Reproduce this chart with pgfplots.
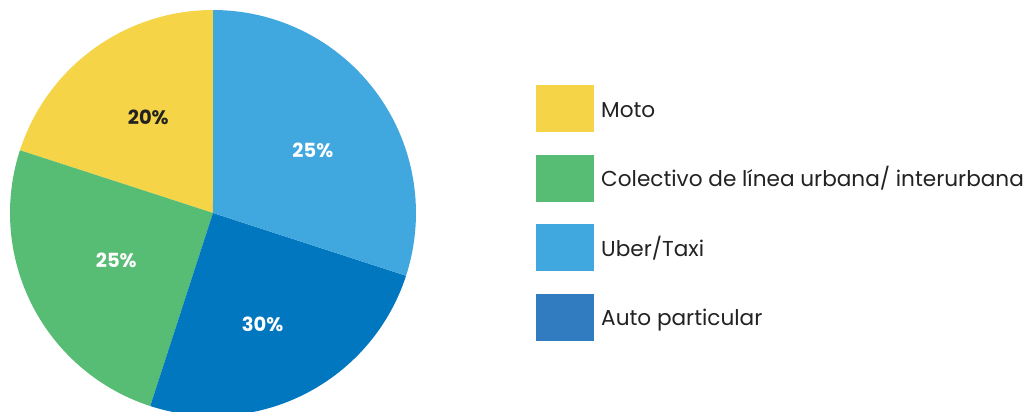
\documentclass[border=0pt]{standalone}
\usepackage{fontspec}
\setmainfont{Poppins}
\usepackage{pgfplots}
\pgfplotsset{compat=1.18}
\usepgfplotslibrary{polar}
\definecolor{cMoto}{HTML}{F5D447}
\definecolor{cCol}{HTML}{57BC74}
\definecolor{cUber}{HTML}{40A7DF}
\definecolor{cAuto}{HTML}{0077BF}
\definecolor{cAutoLeg}{HTML}{317CC0}
\definecolor{txt}{HTML}{222222}
\begin{document}
\begin{tikzpicture}[x=1pt,y=1pt]
\path[use as bounding box] (0,0) rectangle (1029,412);
\begin{polaraxis}[
  hide axis, scale only axis,
  width=406pt, height=406pt,
  ymin=0, ymax=1,
  at={(213pt,199pt)}, anchor=center,
  clip=false,
]
% slices: Moto 20%, Colectivo 25%, Auto particular 25%, Uber/Taxi 30% (angles as drawn)
\addplot[draw=none, fill=cMoto, domain=90:162, samples=60] {1} -- (axis cs:0,0) -- cycle;
\addplot[draw=none, fill=cCol, domain=162:252, samples=60] {1} -- (axis cs:0,0) -- cycle;
\addplot[draw=none, fill=cAuto, domain=252:342, samples=60] {1} -- (axis cs:0,0) -- cycle;
\addplot[draw=none, fill=cUber, domain=342:450, samples=60] {1} -- (axis cs:0,0) -- cycle;
\node[font=\fontsize{19.5}{22}\selectfont\bfseries, text=txt] at (axis cs:124,0.57) {20\%};
\node[font=\fontsize{19.5}{22}\selectfont\bfseries, text=white] at (axis cs:206,0.53) {25\%};
\node[font=\fontsize{19.5}{22}\selectfont\bfseries, text=white] at (axis cs:294,0.60) {30\%};
\node[font=\fontsize{19.5}{22}\selectfont\bfseries, text=white] at (axis cs:32,0.58) {25\%};
\end{polaraxis}
% legend
\fill[cMoto] (536,280) rectangle (594,327);
\fill[cCol] (536,210) rectangle (594,257);
\fill[cUber] (536,141) rectangle (594,188);
\fill[cAutoLeg] (536,71) rectangle (594,118);
\begin{scope}[every node/.style={anchor=base west, inner sep=0pt, text=txt, font=\fontsize{21.6}{24}\selectfont}]
\node at (601,294.5) {Moto};
\node at (601,225) {Colectivo de línea urbana/ interurbana};
\node at (601,155.5) {Uber/Taxi};
\node at (601,86) {Auto particular};
\end{scope}
\end{tikzpicture}
\end{document}
